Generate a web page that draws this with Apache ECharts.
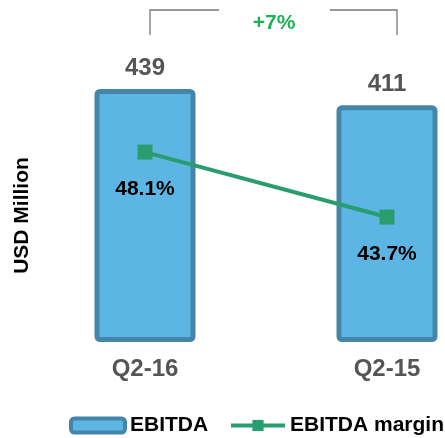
<!DOCTYPE html>
<html>
<head>
<meta charset="utf-8">
<script src="https://cdn.jsdelivr.net/npm/echarts@6/dist/echarts.min.js"></script>
<style>html,body{margin:0;padding:0;background:#fff}#c{width:445px;height:438px}</style>
</head>
<body>
<div id="c"></div>
<script>
var categories = ['Q2-16', 'Q2-15'];
var ebitda = [439, 411];
var margin = [48.1, 43.7];
var changeLabel = '+7%';

var chart = echarts.init(document.getElementById('c'));
var F = '"Liberation Sans", Arial, sans-serif';
var legendText = { color: '#000', fontWeight: 'bold', fontSize: 21, fontFamily: F };
chart.setOption({
  animation: false,
  textStyle: { fontFamily: F },
  grid: { left: 24, width: 484, top: 89, height: 253, outerBoundsMode: 'none', containLabel: false },
  xAxis: {
    type: 'category', data: categories,
    axisLine: { show: false }, axisTick: { show: false },
    axisLabel: { color: '#555', fontWeight: 'bold', fontSize: 24, margin: 15, fontFamily: F }
  },
  yAxis: [
    { type: 'value', min: 0, max: 439, show: true, axisLine: { show: false }, axisTick: { show: false },
      axisLabel: { show: false }, splitLine: { show: false },
      name: 'USD Million', nameLocation: 'middle', nameRotate: 90, nameGap: -9,
      nameTextStyle: { color: '#000', fontWeight: 'bold', fontSize: 21, fontFamily: F } },
    { type: 'value', min: 35.24, max: 52.37, show: false }
  ],
  legend: [
    { bottom: 2, left: 69, padding: 0, itemWidth: 54, itemHeight: 14, textStyle: legendText,
      data: [{ name: 'EBITDA', itemStyle: { borderWidth: 4 } }] },
    { bottom: 2, left: 229, padding: 0, itemWidth: 54, itemHeight: 14, textStyle: legendText,
      data: [{ name: 'EBITDA margin', lineStyle: { width: 4 } }] }
  ],
  series: [
    { name: 'EBITDA', type: 'bar', data: ebitda, barWidth: 101,
      itemStyle: { color: '#5DB5E3', borderColor: '#4585AA', borderWidth: 5, borderRadius: 3 },
      label: { show: true, position: 'top', distance: 9, color: '#555', fontWeight: 'bold', fontSize: 24, fontFamily: F } },
    { name: 'EBITDA margin', type: 'line', yAxisIndex: 1, data: margin,
      lineStyle: { color: '#2A9D6F', width: 4 }, itemStyle: { color: '#2A9D6F' },
      symbol: 'rect', symbolSize: 15,
      label: { show: true, position: 'bottom', distance: 19, color: '#000', fontWeight: 'bold', fontSize: 21, fontFamily: F,
        formatter: function (p) { return p.value.toFixed(1) + '%'; } } }
  ],
  graphic: [
    { type: 'polyline', shape: { points: [[150, 35], [150, 10], [219, 10]] }, style: { stroke: '#777', lineWidth: 1.3, fill: null } },
    { type: 'polyline', shape: { points: [[330, 10], [397, 10], [397, 35]] }, style: { stroke: '#777', lineWidth: 1.3, fill: null } },
    { type: 'text', style: { x: 274, y: 23, text: changeLabel, fill: '#1DB257', font: 'bold 21px ' + F, textAlign: 'center', textVerticalAlign: 'middle' } }
  ]
});
</script>
</body>
</html>
